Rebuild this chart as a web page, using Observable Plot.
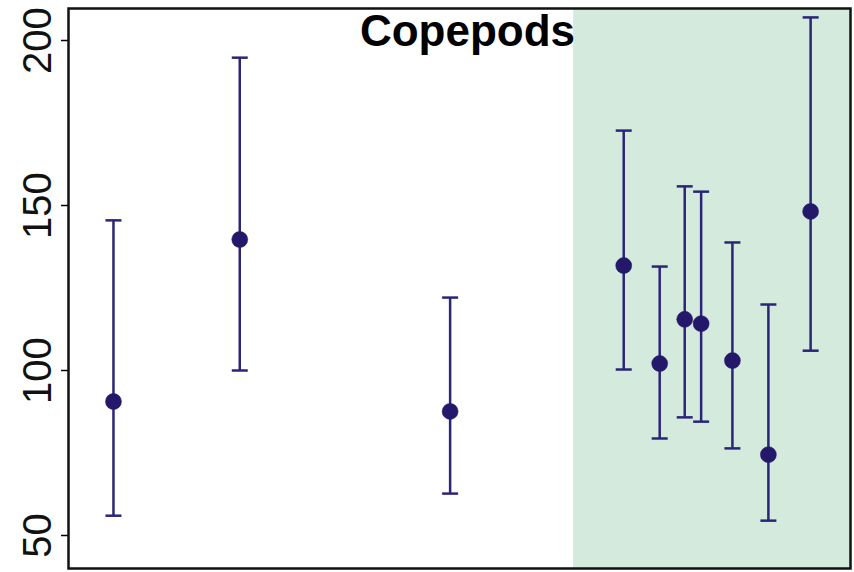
<!DOCTYPE html>
<html>
<head>
<meta charset="utf-8">
<script src="https://cdn.jsdelivr.net/npm/d3@7"></script>
<script src="https://cdn.jsdelivr.net/npm/@observablehq/plot@0.6"></script>
<style>
  html, body { margin: 0; padding: 0; background: #fff; }
  #chart { position: relative; width: 854px; height: 572px; }
  svg { font-family: "Liberation Sans", Arial, sans-serif; }
</style>
</head>
<body>
<div id="chart"></div>
<script>
// Data (positions along an unlabeled x axis, estimated means and interval bounds)
const xPos   = [5.75, 21.9, 48.8, 71.0, 75.6, 78.8, 80.9, 84.9, 89.5, 94.9];
const means  = [90.6, 139.7, 87.6, 131.8, 102.1, 115.5, 114.2, 103.0, 74.5, 148.2];
const upper  = [145.5, 194.8, 122.1, 172.7, 131.5, 155.8, 154.2, 138.8, 120.0, 207.0];
const lower  = [56.0, 100.0, 62.7, 100.3, 79.4, 85.8, 84.5, 76.4, 54.5, 106.0];
const shadeStart = [64.6];
const shadeEnd = [100];
const xDomain = [0, 100];
const yDomain = [40, 209.7];
const yTicks = [50, 100, 150, 200];
const title = "Copepods";

const data = xPos.map((x, i) => ({x, mean: means[i], hi: upper[i], lo: lower[i]}));
const shade = shadeStart.map((s, i) => ({x1: s, x2: shadeEnd[i]}));

const cap = {draw(ctx) { ctx.moveTo(-8, 0); ctx.lineTo(8, 0); }};
const navy = "#2b2577";

const plot = Plot.plot({
  width: 854,
  height: 572,
  marginLeft: 68,
  marginRight: 4,
  marginTop: 8,
  marginBottom: 4,
  x: {domain: xDomain, axis: null},
  y: {domain: yDomain},
  marks: [
    Plot.rect(shade, {x1: "x1", x2: "x2", y1: yDomain[0], y2: yDomain[1], fill: "#d4eadc"}),
    Plot.ruleX(data, {x: "x", y1: "lo", y2: "hi", stroke: navy, strokeWidth: 2.5}),
    Plot.dot(data, {x: "x", y: "hi", symbol: cap, stroke: navy, strokeWidth: 2.5, r: 8}),
    Plot.dot(data, {x: "x", y: "lo", symbol: cap, stroke: navy, strokeWidth: 2.5, r: 8}),
    Plot.dot(data, {x: "x", y: "mean", r: 8, fill: "#24186a", stroke: "#24186a", strokeWidth: 0.5}),
    Plot.text([title], {frameAnchor: "top", dy: 6, dx: 8, text: d => d, fontSize: 44, fontWeight: "bold", fill: "black"}),
    Plot.axisY({ticks: yTicks, tickSize: 7, tickRotate: -90, fontSize: 40, tickPadding: 11, stroke: "black", strokeWidth: 1.5, label: null, fill: "#111"}),
    Plot.frame({stroke: "#111", strokeWidth: 2.5})
  ]
});
document.getElementById("chart").appendChild(plot);
</script>
</body>
</html>
